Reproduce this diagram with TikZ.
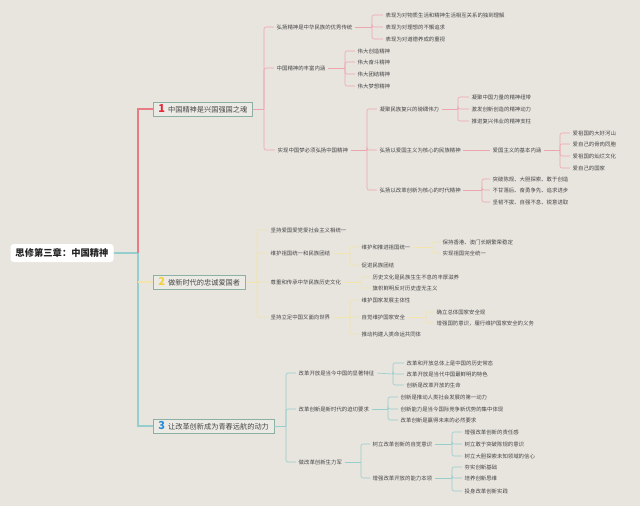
\documentclass[tikz,border=0pt]{standalone}
\usepackage{fontspec}
\setmainfont{Noto Sans CJK SC}
\definecolor{bg}{RGB}{232,229,223}
\definecolor{txt}{RGB}{70,70,70}
\definecolor{lred}{RGB}{236,165,172}
\definecolor{tred}{RGB}{230,125,132}
\definecolor{lteal}{RGB}{150,205,205}
\definecolor{lyel}{RGB}{242,228,172}
\definecolor{boxb}{RGB}{140,176,164}
\definecolor{boxf}{RGB}{236,234,228}
\definecolor{n1}{RGB}{228,40,56}
\definecolor{n2}{RGB}{245,208,60}
\definecolor{n3}{RGB}{40,140,215}
\newcommand\numf{\fontsize{11}{11}\selectfont\bfseries}
\tikzset{
  t/.style={anchor=west, inner xsep=0.5pt, inner ysep=1pt, font=\fontsize{5.4}{6}\selectfont, text=txt},
  mbox/.style={anchor=west, draw=boxb, fill=boxf, line width=0.8pt, inner xsep=5pt, inner ysep=1pt, minimum height=14pt, font=\fontsize{7.2}{8}\selectfont, text=txt},
  root/.style={fill=white, rounded corners=3pt, inner xsep=5pt, minimum height=18pt, font=\fontsize{9.3}{10}\selectfont\bfseries, text=black!85},
  lr/.style={draw=lred, line width=0.6pt, rounded corners=2pt},
  ly/.style={draw=lyel, line width=0.6pt, rounded corners=2pt},
  lt/.style={draw=lteal, line width=0.6pt, rounded corners=2pt},
  stem/.style={shorten <=2pt},
  stub/.style={shorten >=2pt}
}
\begin{document}
\begin{tikzpicture}[x=1pt,y=-1pt]
\useasboundingbox (0,0) rectangle (640,506);
\fill[bg] (0,0) rectangle (640,506);

% root and main branches
\node[root] (root) at (62,253) {思修第三章：中国精神};
\coordinate (tr) at (138,253);
\node[mbox] (b1) at (153,109) {{\color{n1}\numf 1}\hspace{3pt}中国精神是兴国强国之魂};
\node[mbox] (b2) at (153,282) {{\color{n2}\numf 2}\hspace{3pt}做新时代的忠诚爱国者};
\node[mbox] (b3) at (153,426) {{\color{n3}\numf 3}\hspace{3pt}让改革创新成为青春远航的动力};
\draw[draw=lteal, line width=1.4pt] (root.east) -- (tr);
\draw[draw=tred, line width=1.4pt] (tr) |- (b1.west);
\draw[draw=lteal, line width=1.4pt] (tr) |- (b3.west);
\draw[draw=lyel, line width=1.4pt] (tr |- b2.west) -- (b2.west);

% ---------- branch 1 ----------
\node[t] (a1) at (276,27) {弘扬精神是中华民族的优秀传统};
\node[t] (a2) at (276,68) {中国精神的丰富内涵};
\node[t] (a3) at (277,150) {实现中国梦必须弘扬中国精神};
\node[t] (a11) at (385,15) {表现为对物质生活和精神生活相互关系的独到理解};
\node[t] (a12) at (385,27) {表现为对理想的不懈追求};
\node[t] (a13) at (385,39) {表现为对道德养成的重视};
\node[t] (a21) at (357,51) {伟大创造精神};
\node[t] (a22) at (357,62) {伟大奋斗精神};
\node[t] (a23) at (357,74) {伟大团结精神};
\node[t] (a24) at (357,86) {伟大梦想精神};
\node[t] (a31) at (379,109) {凝聚民族复兴的磅礴伟力};
\node[t] (a32) at (379,150) {弘扬以爱国主义为核心的民族精神};
\node[t] (a33) at (379,190) {弘扬以改革创新为核心的时代精神};
\node[t] (a311) at (471,97) {凝聚中国力量的精神纽带};
\node[t] (a312) at (471,109) {激发创新创造的精神动力};
\node[t] (a313) at (471,121) {推进复兴伟业的精神支柱};
\node[t] (a321) at (492,150) {爱国主义的基本内涵};
\node[t] (a3211) at (572,133) {爱祖国的大好河山};
\node[t] (a3212) at (572,144) {爱自己的骨肉同胞};
\node[t] (a3213) at (572,156) {爱祖国的灿烂文化};
\node[t] (a3214) at (572,168) {爱自己的国家};
\node[t] (a331) at (492,179) {突破陈规、大胆探索、敢于创造};
\node[t] (a332) at (492,190) {不甘落后、奋勇争先、追求进步};
\node[t] (a333) at (492,202) {坚韧不拔、自强不息、锐意进取};

\coordinate (v1) at (264,109);
\draw[lr, line width=0.9pt] (b1.east) -- (v1);
\foreach \c in {a1,a2,a3} \draw[lr,stub] (v1) |- (\c.west);
\coordinate (v11) at (372,27);
\draw[lr,stem] (a1.east) -- (v11);
\foreach \c in {a11,a12,a13} \draw[lr,stub] (v11) |- (\c.west);
\coordinate (v12) at (345,68);
\draw[lr,stem] (a2.east) -- (v12);
\foreach \c in {a21,a22,a23,a24} \draw[lr,stub] (v12) |- (\c.west);
\coordinate (v13) at (367,150);
\draw[lr,stem] (a3.east) -- (v13);
\foreach \c in {a31,a32,a33} \draw[lr,stub] (v13) |- (\c.west);
\coordinate (v131) at (458,109);
\draw[lr,stem] (a31.east) -- (v131);
\foreach \c in {a311,a312,a313} \draw[lr,stub] (v131) |- (\c.west);
\draw[lr,stem,stub] (a32.east) -- (a321.west);
\coordinate (v1321) at (560,150);
\draw[lr,stem] (a321.east) -- (v1321);
\foreach \c in {a3211,a3212,a3213,a3214} \draw[lr,stub] (v1321) |- (\c.west);
\coordinate (v133) at (482,190);
\draw[lr,stem] (a33.east) -- (v133);
\foreach \c in {a331,a332,a333} \draw[lr,stub] (v133) |- (\c.west);

% ---------- branch 2 ----------
\node[t] (c1) at (270,230) {坚持爱国爱党爱社会主义相统一};
\node[t] (c2) at (270,253) {维护祖国统一和民族团结};
\node[t] (c3) at (270,282) {尊重和传承中华民族历史文化};
\node[t] (c4) at (270,317) {坚持立足中国又面向世界};
\node[t] (c21) at (361,247) {维护和推进祖国统一};
\node[t] (c22) at (361,265) {促进民族团结};
\node[t] (c211) at (442,242) {保持香港、澳门长期繁荣稳定};
\node[t] (c212) at (442,253) {实现祖国完全统一};
\node[t] (c31) at (372,277) {历史文化是民族生生不息的丰厚滋养};
\node[t] (c32) at (372,288) {旗帜鲜明反对历史虚无主义};
\node[t] (c41) at (361,300) {维护国家发展主体性};
\node[t] (c42) at (361,317) {自觉维护国家安全};
\node[t] (c43) at (361,334) {推动构建人类命运共同体};
\node[t] (c421) at (436,312) {确立总体国家安全观};
\node[t] (c422) at (436,323) {增强国防意识，履行维护国家安全的义务};

\coordinate (v2) at (257,282);
\draw[ly, line width=0.9pt] (b2.east) -- (v2);
\foreach \c in {c1,c2,c3,c4} \draw[ly,stub] (v2) |- (\c.west);
\coordinate (v22) at (350,253);
\draw[ly,stem] (c2.east) -- (v22);
\foreach \c in {c21,c22} \draw[ly,stub] (v22) |- (\c.west);
\coordinate (v221) at (432,247);
\draw[ly,stem] (c21.east) -- (v221);
\foreach \c in {c211,c212} \draw[ly,stub] (v221) |- (\c.west);
\coordinate (v23) at (361,282);
\draw[ly,stem] (c3.east) -- (v23);
\foreach \c in {c31,c32} \draw[ly,stub] (v23) |- (\c.west);
\coordinate (v24) at (350,317);
\draw[ly,stem] (c4.east) -- (v24);
\foreach \c in {c41,c42,c43} \draw[ly,stub] (v24) |- (\c.west);
\coordinate (v242) at (426,317);
\draw[ly,stem] (c42.east) -- (v242);
\foreach \c in {c421,c422} \draw[ly,stub] (v242) |- (\c.west);

% ---------- branch 3 ----------
\node[t] (d1) at (298,373) {改革开放是当今中国的显著特征};
\node[t] (d2) at (298,409) {改革创新是新时代的迫切要求};
\node[t] (d3) at (298,462) {做改革创新生力军};
\node[t] (d11) at (406,363) {改革和开放总体上是中国的历史常态};
\node[t] (d12) at (406,374) {改革开放是当代中国最鲜明的特色};
\node[t] (d13) at (406,385) {创新是改革开放的生命};
\node[t] (d21) at (400,397) {创新是推动人类社会发展的第一动力};
\node[t] (d22) at (400,409) {创新能力是当今国际竞争新优势的集中体现};
\node[t] (d23) at (400,420) {改革创新是赢得未来的必然要求};
\node[t] (d31) at (372,444) {树立改革创新的自觉意识};
\node[t] (d32) at (372,478) {增强改革开放的能力本领};
\node[t] (d311) at (464,432) {增强改革创新的责任感};
\node[t] (d312) at (464,444) {树立敢于突破陈规的意识};
\node[t] (d313) at (464,456) {树立大胆探索未知领域的信心};
\node[t] (d321) at (464,467) {夯实创新基础};
\node[t] (d322) at (464,478) {培养创新思维};
\node[t] (d323) at (464,491) {投身改革创新实践};

\coordinate (v3) at (286,426);
\draw[lt, line width=0.9pt] (b3.east) -- (v3);
\foreach \c in {d1,d2,d3} \draw[lt,stub] (v3) |- (\c.west);
\coordinate (v31) at (393,374);
\draw[lt,stem] (d1.east) -- (v31);
\foreach \c in {d11,d12,d13} \draw[lt,stub] (v31) |- (\c.west);
\coordinate (v32) at (388,409);
\draw[lt,stem] (d2.east) -- (v32);
\foreach \c in {d21,d22,d23} \draw[lt,stub] (v32) |- (\c.west);
\coordinate (v33) at (361,462);
\draw[lt,stem] (d3.east) -- (v33);
\foreach \c in {d31,d32} \draw[lt,stub] (v33) |- (\c.west);
\coordinate (v331) at (452,444);
\draw[lt,stem] (d31.east) -- (v331);
\foreach \c in {d311,d312,d313} \draw[lt,stub] (v331) |- (\c.west);
\coordinate (v332) at (452,478);
\draw[lt,stem] (d32.east) -- (v332);
\foreach \c in {d321,d322,d323} \draw[lt,stub] (v332) |- (\c.west);
\end{tikzpicture}
\end{document}
